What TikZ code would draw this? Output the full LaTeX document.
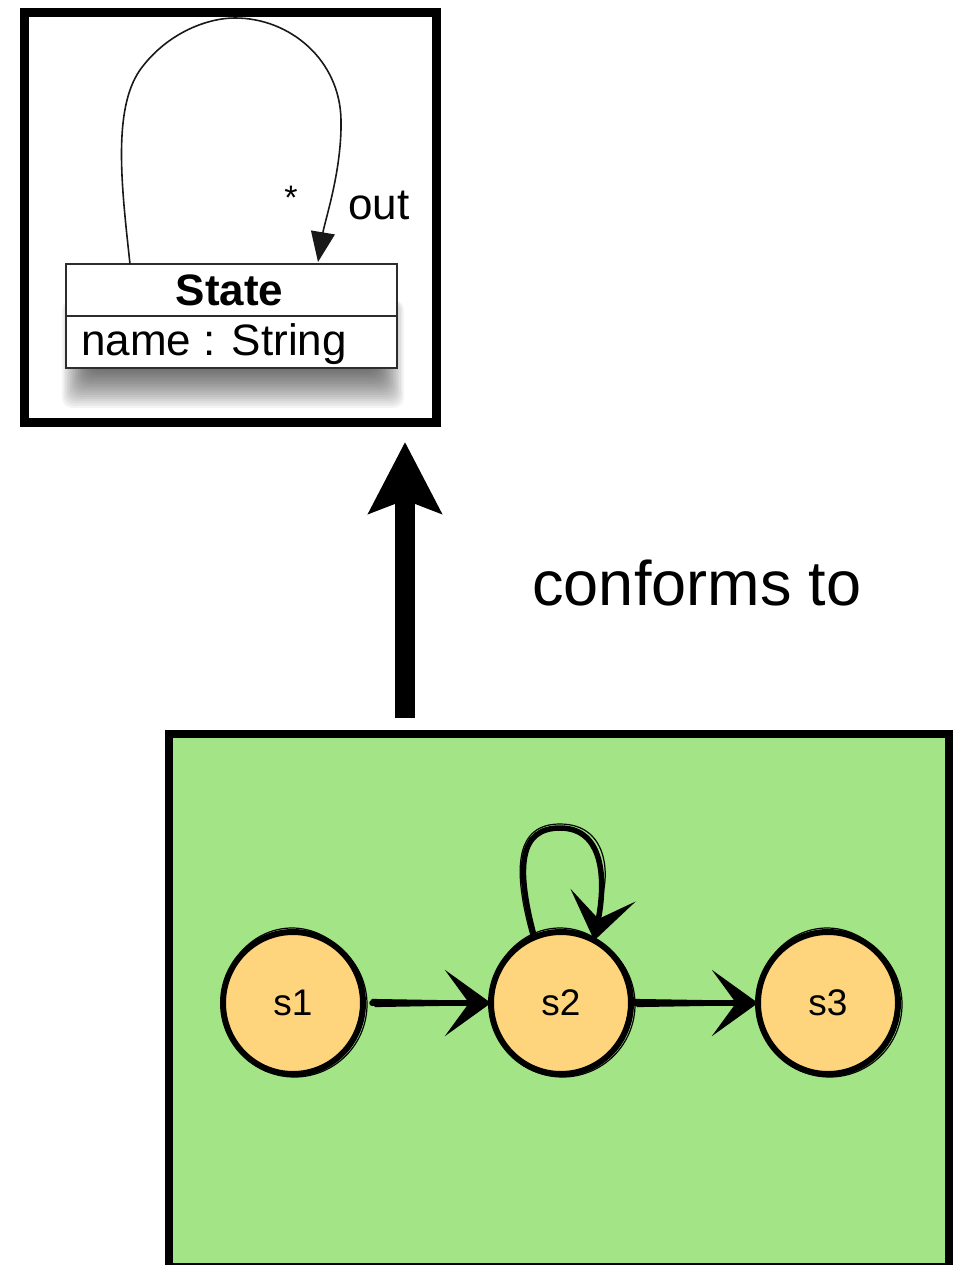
\documentclass[tikz,border=0pt]{standalone}
\usepackage{fontspec}
\setmainfont{Liberation Sans}
\usetikzlibrary{arrows.meta,shapes.geometric,calc}
\definecolor{modelgreen}{RGB}{162,228,134}
\definecolor{stateorange}{RGB}{254,212,124}
\definecolor{umlgray}{RGB}{45,45,45}

\begin{document}
\begin{tikzpicture}[x=1pt,y=-1pt,
  frame/.style={draw=black, line width=9pt, inner sep=0pt, outer sep=0pt},
  umlbox/.style={draw=umlgray, line width=2.5pt, fill=white, inner sep=0pt, outer sep=0pt,
    minimum width=331pt, minimum height=52pt},
  umlline/.style={line width=1.6pt, draw=black!90},
  umltext/.style={font=\fontsize{44}{48}\selectfont, inner sep=0pt},
  statenode/.style={ellipse, draw=black, line width=6pt, fill=stateorange, inner sep=0pt,
    outer sep=0pt, minimum width=140pt, minimum height=142pt,
    font=\fontsize{37}{40}\selectfont},
  sketch/.style={line width=5.5pt, line cap=round, draw=black},
  sketchtip/.style={-{Stealth[length=46pt,width=66pt,inset=24pt]}},
  roughstroke/.style={line width=1.2pt, draw=black, line cap=round},
  conformarrow/.style={line width=20pt, draw=black,
    -{Stealth[length=71pt,width=72pt,inset=13pt]}}
]
\useasboundingbox (0,0) rectangle (963,1265);

% ---------- metamodel frame ----------
\node[frame, minimum width=411.5pt, minimum height=409.5pt] (meta) at (230.25,217.25) {};

% soft shadow under the class box
\foreach \i in {0,...,17}{
  \fill[black, opacity=0.045, rounded corners=10pt]
    (62+1.6*\i, 300) rectangle (404-1.6*\i, 408-2.2*\i);
}

% class box: name compartment and attribute compartment
\node[umlbox, anchor=north west] (clsname) at (66,264) {};
\node[umlbox, anchor=north west] (clsattr) at (66,316) {};
\node[umltext, font=\fontsize{44}{48}\selectfont\bfseries] (statelbl) at ($(clsname.center)+(-2,0)$) {State};
\node[umltext, anchor=west] (attrlbl) at ($(clsattr.west)+(15,2)$) {name : String};

% reflexive association "out"
\coordinate (loopstart) at ($(clsname.north west)+(64,0)$);
\coordinate (loopend) at ($(clsname.north west)+(252,-2)$);
\draw[umlline, -{Triangle[length=30pt,width=24pt]}]
  (loopstart) .. controls (122,190) and (112,110) .. (140,70)
  .. controls (165,35) and (205,18) .. (235,18)
  .. controls (290,18) and (340,60) .. (341,120)
  .. controls (342,170) and (325,220) .. (loopend);
\node[umltext, font=\fontsize{34}{38}\selectfont] (mult) at (291,198) {*};
\node[umltext] (rolelbl) at (379,205) {out};

% ---------- model frame ----------
\node[frame, line width=8pt, fill=modelgreen, minimum width=780pt, minimum height=533pt]
  (model) at (559,1000.5) {};

% ---------- conformance arrow ----------
\coordinate (conftail) at (405,718);
\draw[conformarrow, shorten >=20pt] (conftail) -- (conftail |- meta.south);
\node[font=\fontsize{63}{68}\selectfont, inner sep=0pt] (conflbl) at (697,583) {conforms to};

% ---------- states ----------
\node[statenode] (s1) at (293,1003) {s1};
\node[statenode] (s2) at (561,1003) {s2};
\node[statenode] (s3) at (828,1003) {s3};

% rough extra strokes around the states
\foreach \s in {s1,s2,s3}{
  \draw[roughstroke] ($(\s.center)+(1.5,1.5)$) ellipse (72.5 and 72.5);
  \draw[roughstroke] ($(\s.center)+(-1,-1.5)$) ellipse (69 and 73.5);
}

% transitions
\draw[sketch, sketchtip, shorten <=9pt] (s1.east) -- (s2.west);
\draw[sketch, sketchtip, shorten <=4pt] (s2.east) -- (s3.west);
\draw[roughstroke] ($(s1.east)+(9,-3.5)$) -- ($(s2.west)+(-30,-2)$);
\draw[roughstroke] ($(s1.east)+(12,3.5)$) -- ($(s2.west)+(-30,2)$);
\draw[roughstroke] ($(s2.east)+(4,-3.5)$) -- ($(s3.west)+(-30,-2)$);
\draw[roughstroke] ($(s2.east)+(6,3.5)$) -- ($(s3.west)+(-30,2)$);

% self transition on s2
\draw[sketch, sketchtip] (s2.112) .. controls (515,865) and (520,828) .. (560,828)
  .. controls (604,828) and (606,880) .. (s2.62);
\draw[roughstroke] ($(s2.112)+(-3,0)$) .. controls (511,865) and (517,824) .. (560,824)
  .. controls (608,824) and (610,875) .. (601,900);
\end{tikzpicture}
\end{document}
